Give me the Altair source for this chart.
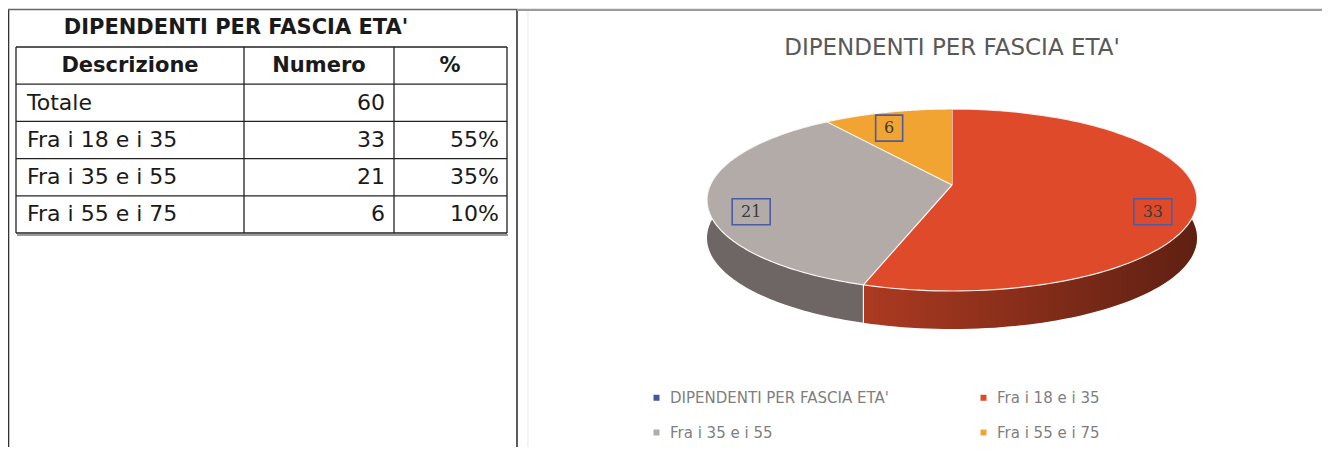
import math
import altair as alt
import pandas as pd

# ---------------- data ----------------
title_text = "DIPENDENTI PER FASCIA ETA'"
header_labels = ["Descrizione", "Numero", "%"]
row_labels = ["Totale", "Fra i 18 e i 35", "Fra i 35 e i 55", "Fra i 55 e i 75"]
row_numbers = [60, 33, 21, 6]
row_percent = ["", "55%", "35%", "10%"]

slice_labels = ["Fra i 18 e i 35", "Fra i 35 e i 55", "Fra i 55 e i 75"]
slice_values = [33, 21, 6]
legend_labels = ["DIPENDENTI PER FASCIA ETA'", "Fra i 18 e i 35", "Fra i 35 e i 55", "Fra i 55 e i 75"]

# ---------------- styles / layout ----------------
top_colors = ["#4457A3", "#DF4A2B", "#B3ABA8", "#F1A431"]
side_colors = ["#AC3A21", "#6E6664", "#B27820"]
W, H = 1314, 439
CX, CY, RX, RY, DEPTH = 944, 192, 245, 91, 38
PERSP = -0.165  # perspective tilt of the top face
N = 120

# ---------------- tables built from data ----------------
total = sum(slice_values)
f0, acc = [], 0
for v in slice_values:
    f0.append(acc / total)
    acc += v
f1 = f0[1:] + [1.0]
slices = pd.DataFrame({"cat": slice_labels, "value": slice_values, "f0": f0, "f1": f1})

top_rows, side_rows = [], []
for c, a0, a1 in zip(slice_labels, f0, f1):
    top_rows.append(dict(cat=c, f0=a0, f1=a1, t=0.0, r=0.0, dz=0, o=0))
    for k in range(N + 1):
        top_rows.append(dict(cat=c, f0=a0, f1=a1, t=k / N, r=1.0, dz=0, o=k + 1))
    for k in range(N + 1):
        side_rows.append(dict(cat=c, f0=a0, f1=a1, t=k / N, r=1.0, dz=0, o=k))
    for k in range(N, -1, -1):
        side_rows.append(dict(cat=c, f0=a0, f1=a1, t=k / N, r=1.0, dz=1, o=2 * N + 1 - k))
top_df = pd.DataFrame(top_rows)
side_df = pd.DataFrame(side_rows)

xs = alt.Scale(domain=[0, W], range=[0, W], zero=False, nice=False)
ys = alt.Scale(domain=[0, H], range=[0, H], zero=False, nice=False)

ang = "PI/2 - 2*PI*(datum.f0 + datum.t*(datum.f1 - datum.f0))"
uexpr = "datum.r*cos(datum.a)"
vexpr = "-datum.r*sin(datum.a)"
den = f"(1 + ({PERSP})*datum.v)"
px = f"{CX} + {RX}*datum.u*sqrt(1 - ({PERSP})*({PERSP}))/{den}"
py = f"{CY} + {RY}*(datum.v + ({PERSP}))/{den} + {DEPTH}*datum.dz"


def geom(ch):
    return (ch.transform_calculate(a=ang)
              .transform_calculate(u=uexpr, v=vexpr)
              .transform_calculate(px=px, py=py))


side = geom(alt.Chart(side_df)).mark_line(filled=True, strokeOpacity=0).encode(
    x=alt.X("px:Q", scale=xs, axis=None),
    y=alt.Y("py:Q", scale=ys, axis=None),
    order=alt.Order("o:Q"),
    fill=alt.Fill("cat:N", scale=alt.Scale(domain=slice_labels, range=side_colors), legend=None),
)

# darkening toward the right on the largest slice's wall
shade = geom(alt.Chart(side_df)).transform_filter(
    alt.FieldEqualPredicate(field="cat", equal=slice_labels[0])
).mark_line(
    fill=alt.LinearGradient(
        gradient="linear",
        stops=[alt.GradientStop(color="rgba(0,0,0,0.0)", offset=0),
               alt.GradientStop(color="rgba(0,0,0,0.45)", offset=1)],
        x1=0, x2=1, y1=0, y2=0),
    strokeOpacity=0,
).encode(
    x=alt.X("px:Q", scale=xs, axis=None),
    y=alt.Y("py:Q", scale=ys, axis=None),
    order=alt.Order("o:Q"),
    detail="cat:N",
)

top = geom(alt.Chart(top_df)).mark_line(filled=True, stroke="white", strokeWidth=1.2, strokeOpacity=0.9).encode(
    x=alt.X("px:Q", scale=xs, axis=None),
    y=alt.Y("py:Q", scale=ys, axis=None),
    order=alt.Order("o:Q"),
    color=alt.Color(
        "cat:N",
        scale=alt.Scale(domain=legend_labels, range=top_colors),
        legend=alt.Legend(
            orient="none", legendX=641, legendY=382, columns=2, direction="horizontal",
            title=None, symbolType="square", symbolSize=36, symbolStrokeWidth=0,
            labelFont="DejaVu Sans", labelFontSize=15, labelColor="#7F7F7F",
            labelLimit=500, labelOffset=6, columnPadding=87, rowPadding=19,
        ),
    ),
)

seam = (alt.Chart(slices)
        .transform_calculate(a="PI/2 - 2*PI*datum.f0", r="1", dz="0")
        .transform_filter("sin(datum.a) < 0")
        .transform_calculate(u=uexpr, v=vexpr)
        .transform_calculate(px=px, py=py)
        .transform_calculate(py2=f"datum.py + {DEPTH}")
        ).mark_rule(color="white", strokeWidth=1.2).encode(
    x=alt.X("px:Q", scale=xs, axis=None),
    y=alt.Y("py:Q", scale=ys, axis=None),
    y2="py2:Q",
)

lab_base = alt.Chart(slices).transform_calculate(
    am="PI/2 - PI*(datum.f0 + datum.f1)",
).transform_calculate(
    lx=f"{CX} + 0.83*{RX}*cos(datum.am)",
    ly=f"{CY} - 0.83*{RY}*sin(datum.am)",
    lw="16 + 11*length(toString(datum.value))",
).transform_calculate(
    bx1="datum.lx - datum.lw/2", bx2="datum.lx + datum.lw/2",
    by1="datum.ly - 13", by2="datum.ly + 13",
)
lab_box = lab_base.mark_rect(filled=False, stroke="#4A5BA8", strokeWidth=1.6).encode(
    x=alt.X("bx1:Q", scale=xs, axis=None), x2="bx2:Q",
    y=alt.Y("by1:Q", scale=ys, axis=None), y2="by2:Q",
)
lab_txt = lab_base.mark_text(font="DejaVu Serif", fontSize=16, color="#3a3a3a", baseline="middle").encode(
    x=alt.X("lx:Q", scale=xs, axis=None),
    y=alt.Y("ly:Q", scale=ys, axis=None),
    text="value:Q",
)

pie_title = alt.Chart(pd.DataFrame({"t": [title_text]})).mark_text(
    font="DejaVu Sans", fontSize=23, color="#595959", baseline="middle"
).encode(x=alt.value(CX), y=alt.value(40), text="t:N")

# ---------------- table ----------------
tscale = alt.Scale(domain=[0, len(row_labels) + 1], range=[39, 225], zero=False, nice=False)
tbl = pd.DataFrame({"i": list(range(1, len(row_labels) + 1)), "label": row_labels,
                    "num": row_numbers, "perc": row_percent})
hdr = pd.DataFrame({"i": [0], "h0": [header_labels[0]], "h1": [header_labels[1]], "h2": [header_labels[2]]})

TFONT = "DejaVu Sans"
tcol = "#1a1a1a"


def ty():
    return alt.Y("yc:Q", scale=tscale, axis=None)


tb = alt.Chart(tbl).transform_calculate(yc="datum.i + 0.5")
t_label = tb.mark_text(font=TFONT, fontSize=22, align="left", baseline="middle", color=tcol).encode(
    x=alt.value(19), y=ty(), text="label:N")
t_num = tb.mark_text(font=TFONT, fontSize=22, align="right", baseline="middle", color=tcol).encode(
    x=alt.value(377), y=ty(), text="num:Q")
t_perc = tb.mark_text(font=TFONT, fontSize=22, align="right", baseline="middle", color=tcol).encode(
    x=alt.value(491), y=ty(), text="perc:N")

hb = alt.Chart(hdr).transform_calculate(yc="datum.i + 0.5")
h_layers = []
for field, xc in zip(["h0", "h1", "h2"], [122, 311, 442]):
    h_layers.append(hb.mark_text(font=TFONT, fontSize=21, fontWeight="bold", align="center",
                                 baseline="middle", color=tcol).encode(
        x=alt.value(xc), y=ty(), text=f"{field}:N"))

t_title = alt.Chart(pd.DataFrame({"t": [title_text]})).mark_text(
    font=TFONT, fontSize=21, fontWeight="bold", align="center", baseline="middle", color=tcol
).encode(x=alt.value(228), y=alt.value(20), text="t:N")

hlines = alt.Chart(pd.DataFrame({"b": list(range(len(row_labels) + 2))})).mark_rule(
    color="#222222", strokeWidth=1.3).encode(
    x=alt.value(8), x2=alt.value(499), y=alt.Y("b:Q", scale=tscale, axis=None))

one = pd.DataFrame({"z": [0]})
frame = []
for xv in [8, 236, 386, 499]:
    frame.append(alt.Chart(one).mark_rule(color="#222222", strokeWidth=1.3).encode(
        x=alt.value(xv), y=alt.value(39), y2=alt.value(225)))
# table bottom shadow
frame.append(alt.Chart(one).mark_rule(color="#9a9a9a", strokeWidth=2).encode(
    x=alt.value(9), x2=alt.value(500), y=alt.value(227)))
# panel borders
frame.append(alt.Chart(one).mark_rule(color="#333333", strokeWidth=1.6).encode(
    x=alt.value(0.5), y=alt.value(1), y2=alt.value(H)))
frame.append(alt.Chart(one).mark_rule(color="#333333", strokeWidth=1.6).encode(
    x=alt.value(509), y=alt.value(1), y2=alt.value(H)))
frame.append(alt.Chart(one).mark_rule(color="#666666", strokeWidth=1.6).encode(
    x=alt.value(0), x2=alt.value(509), y=alt.value(1.5)))
frame.append(alt.Chart(one).mark_rule(color="#9c9c9c", strokeWidth=2.2).encode(
    x=alt.value(509), x2=alt.value(W), y=alt.value(1.8)))
frame.append(alt.Chart(one).mark_rule(color="#ececec", strokeWidth=1.2).encode(
    x=alt.value(520), y=alt.value(3), y2=alt.value(H)))

layers = frame + [hlines, t_title, t_label, t_num, t_perc] + h_layers + [
    side, shade, top, seam, lab_box, lab_txt, pie_title]

chart = alt.layer(*layers).resolve_scale(
    x="independent", y="independent", color="independent", fill="independent"
).properties(
    width=W, height=H, padding=0, autosize=alt.AutoSizeParams(type="none"),
    background="white",
).configure_view(strokeWidth=0)

chart.save("out.html", embed_options={"renderer": "svg", "actions": False})
